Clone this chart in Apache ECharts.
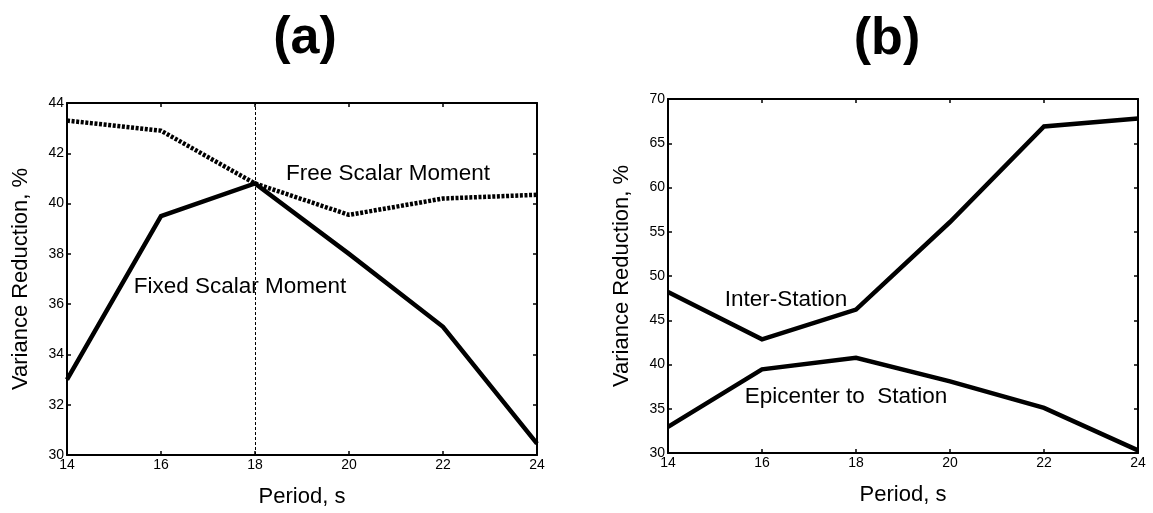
<!DOCTYPE html>
<html>
<head>
<meta charset="utf-8">
<script src="https://cdn.jsdelivr.net/npm/echarts@6/dist/echarts.min.js"></script>
<style>
  html, body { margin: 0; padding: 0; background: #fff; }
  #chart { width: 1153px; height: 513px; }
</style>
</head>
<body>
<div id="chart"></div>
<script>
// periods (s)
const periods = [14, 16, 18, 20, 22, 24]
// panel (a)
const fixedScalar = [33.0, 39.5, 40.8, 38.0, 35.1, 30.45]
const freeScalar = [43.3, 42.9, 40.8, 39.55, 40.2, 40.35]
const markPeriod = 18
// panel (b)
const interStation = [48.2, 42.85, 46.2, 56.1, 66.9, 67.8]
const epicenterStation = [32.95, 39.45, 40.75, 38.1, 35.1, 30.3]

const FONT = 'Liberation Sans, Arial, Helvetica, sans-serif'

function pairs(ys) {
  return periods.map((p, i) => [p, ys[i]])
}

function xAxes(gridIndex) {
  const base = {
    gridIndex: gridIndex,
    type: 'value',
    min: 14,
    max: 24,
    interval: 2,
    splitLine: { show: false },
    axisLine: { show: true, onZero: false, lineStyle: { color: '#000', width: 2 } },
    axisTick: { show: true, inside: true, length: 4, lineStyle: { color: '#000', width: 1.5 } }
  }
  return [
    Object.assign({}, base, {
      position: 'bottom',
      name: 'Period, s',
      nameLocation: 'middle',
      nameGap: 31,
      nameTextStyle: { fontFamily: FONT, fontSize: 22, color: '#000' },
      axisLabel: { show: true, margin: 3, fontFamily: FONT, fontSize: 14, color: '#000' }
    }),
    Object.assign({}, base, { position: 'top', axisLabel: { show: false } })
  ]
}

function yAxes(gridIndex, min, max, interval) {
  const base = {
    gridIndex: gridIndex,
    type: 'value',
    min: min,
    max: max,
    interval: interval,
    splitLine: { show: false },
    axisLine: { show: true, onZero: false, lineStyle: { color: '#000', width: 2 } },
    axisTick: { show: true, inside: true, length: 4, lineStyle: { color: '#000', width: 1.5 } }
  }
  return [
    Object.assign({}, base, {
      position: 'left',
      name: 'Variance Reduction, %',
      nameLocation: 'middle',
      nameGap: 35,
      nameTextStyle: { fontFamily: FONT, fontSize: 22, color: '#000' },
      axisLabel: { show: true, margin: 3, fontFamily: FONT, fontSize: 14, color: '#000' }
    }),
    Object.assign({}, base, { position: 'right', axisLabel: { show: false } })
  ]
}

function note(text, cx, cy) {
  return {
    type: 'text',
    x: cx,
    y: cy,
    style: {
      text: text,
      fontFamily: FONT,
      fontSize: 22.5,
      fill: '#000',
      align: 'center',
      verticalAlign: 'middle'
    },
    z: 10
  }
}

const solid = { color: '#000', width: 4.5, type: 'solid', cap: 'butt', join: 'miter' }

const chart = echarts.init(document.getElementById('chart'), null, { renderer: 'canvas' })
chart.setOption({
  animation: false,
  backgroundColor: '#fff',
  title: [
    { text: '(a)', left: 300, top: 8, textAlign: 'center',
      textStyle: { fontFamily: FONT, fontSize: 52, fontWeight: 'bold', color: '#000' } },
    { text: '(b)', left: 882, top: 9, textAlign: 'center',
      textStyle: { fontFamily: FONT, fontSize: 52, fontWeight: 'bold', color: '#000' } }
  ],
  grid: [
    { left: 67, right: 1153 - 537, top: 103, bottom: 513 - 456.5 },
    { left: 668, right: 1153 - 1138, top: 99, bottom: 513 - 453 }
  ],
  xAxis: [].concat(xAxes(0), xAxes(1)),
  yAxis: [].concat(yAxes(0, 30, 44, 2), yAxes(1, 30, 70, 5)),
  series: [
    {
      name: 'Free Scalar Moment',
      type: 'line',
      xAxisIndex: 0,
      yAxisIndex: 0,
      data: pairs(freeScalar),
      showSymbol: false,
      lineStyle: { color: '#000', width: 4.5, type: [3, 1.6], cap: 'butt' },
      markLine: {
        silent: true,
        symbol: 'none',
        label: { show: false },
        lineStyle: { color: '#000', width: 1, type: [3, 2] },
        data: [{ xAxis: markPeriod }]
      }
    },
    {
      name: 'Fixed Scalar Moment',
      type: 'line',
      xAxisIndex: 0,
      yAxisIndex: 0,
      data: pairs(fixedScalar),
      showSymbol: false,
      lineStyle: solid
    },
    {
      name: 'Inter-Station',
      type: 'line',
      xAxisIndex: 2,
      yAxisIndex: 2,
      data: pairs(interStation),
      showSymbol: false,
      lineStyle: solid
    },
    {
      name: 'Epicenter to Station',
      type: 'line',
      xAxisIndex: 2,
      yAxisIndex: 2,
      data: pairs(epicenterStation),
      showSymbol: false,
      lineStyle: solid
    }
  ],
  graphic: [
    note('Free Scalar Moment', 388, 174),
    note('Fixed Scalar Moment', 240, 287),
    note('Inter-Station', 786, 300),
    note('Epicenter to  Station', 846, 397)
  ]
})
</script>
</body>
</html>
